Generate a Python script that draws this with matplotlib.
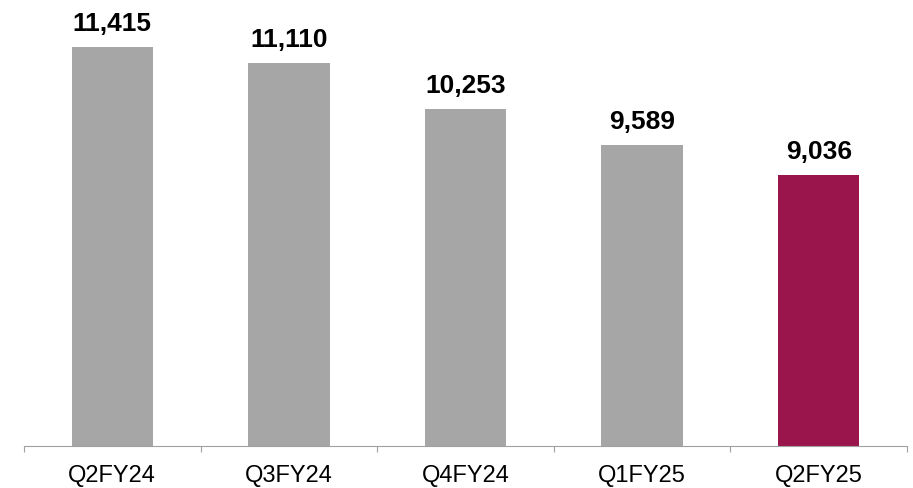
import numpy as np
import matplotlib.pyplot as plt

plt.rcParams['font.family'] = ['Liberation Sans', 'DejaVu Sans']

# data
quarters = ['Q2FY24', 'Q3FY24', 'Q4FY24', 'Q1FY25', 'Q2FY25']
values = [11415, 11110, 10253, 9589, 9036]
bar_colors = ['#A6A6A6', '#A6A6A6', '#A6A6A6', '#A6A6A6', '#99154B']

fig = plt.figure(figsize=(9.13, 4.88), dpi=100)
ax = fig.add_axes([24/913, 42/488, 883/913, 446/488])

x = np.arange(len(quarters))
bars = ax.bar(x, values, width=0.46, color=bar_colors)

for b, v in zip(bars, values):
    ax.annotate(f'{v:,}', (b.get_x() + b.get_width()/2, v),
                xytext=(0, 8), textcoords='offset points',
                ha='center', va='bottom', fontsize=19, fontweight='bold')

ax.set_xlim(-0.5, len(quarters) - 0.5)
ax.set_ylim(4011, 12280)

# ticks on the category boundaries, labels in the middle
ax.set_xticks(np.arange(len(quarters) + 1) - 0.5)
ax.set_xticklabels([])
ax.set_xticks(x, minor=True)
ax.set_xticklabels(quarters, minor=True, fontsize=17)
ax.tick_params(axis='x', which='major', direction='out', length=4.5, color='#A0A0A0')
ax.tick_params(axis='x', which='minor', length=0, pad=14)
ax.set_yticks([])

for s in ['top', 'right', 'left']:
    ax.spines[s].set_visible(False)
ax.spines['bottom'].set_color('#A0A0A0')

fig.savefig('out.png', dpi=100)
